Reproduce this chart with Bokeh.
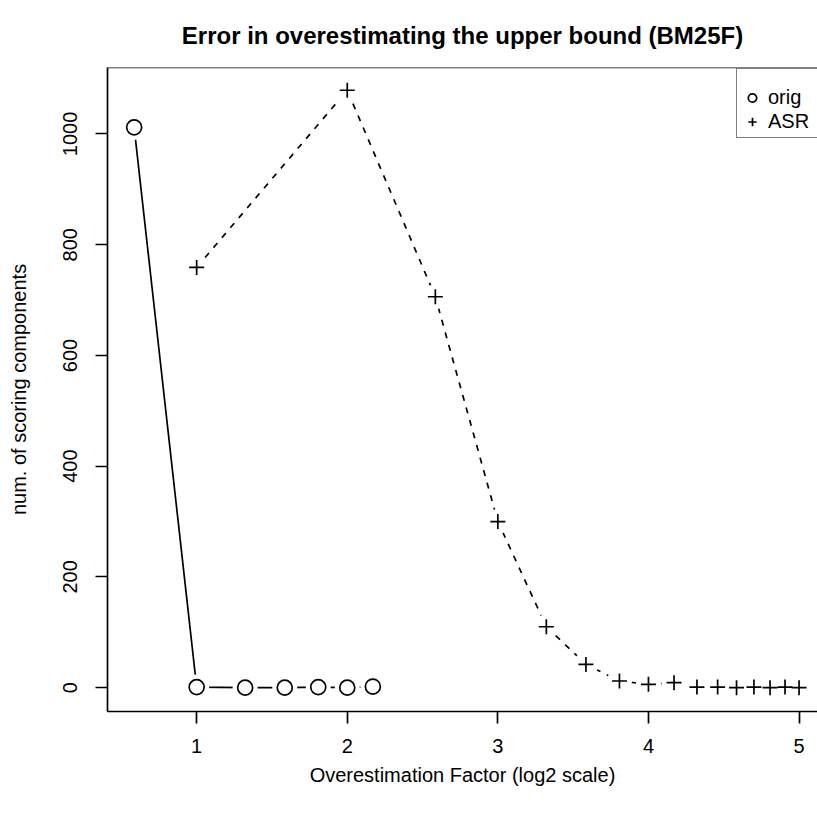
import numpy as np
from bokeh.plotting import figure
from bokeh.models import Range1d, FixedTicker, Span, Legend, LegendItem
from bokeh.embed import file_html
from bokeh.resources import INLINE

# Overestimation factors and counts of scoring components
orig_factor = [1.5, 2, 2.5, 3, 3.5, 4, 4.5]
orig_count = [1012, 1, 0, 0, 1, 0, 2]

asr_factor = [2, 4, 6, 8, 10, 12, 14, 16, 18, 20, 22, 24, 26, 28, 30, 32]
asr_count = [759, 1079, 706, 300, 110, 42, 12, 6, 9, 1, 1, 0, 1, 0, 1, 0]

x_ticks = [1, 2, 3, 4, 5]
y_ticks = [0, 200, 400, 600, 800, 1000]

orig_x = np.log2(orig_factor)
asr_x = np.log2(asr_factor)

FONT = "Liberation Sans"
LW = 1.7

p = figure(
    width=817, height=815,
    frame_width=710, frame_height=644,
    min_border_left=107, min_border_right=0,
    min_border_top=67, min_border_bottom=104,
    x_range=Range1d(0.408, 0.408 + 710 / 150.6),
    y_range=Range1d(-43.1, 1120.1),
    output_backend="svg", toolbar_location=None,
    title="Error in overestimating the upper bound (BM25F)",
)
p.background_fill_color = "white"
p.border_fill_color = "white"
p.outline_line_color = None
p.grid.visible = False

p.title.text_font = FONT
p.title.text_font_size = "24px"
p.title.text_font_style = "bold"
p.title.text_color = "black"
p.title.align = "center"
p.title.standoff = 37

for ax in (p.xaxis[0], p.yaxis[0]):
    ax.axis_line_color = "black"
    ax.axis_line_width = LW
    ax.major_tick_line_width = LW
    ax.major_tick_out = 12
    ax.major_tick_in = 0
    ax.minor_tick_line_color = None
    ax.major_label_text_font = FONT
    ax.major_label_text_font_size = "20px"
    ax.major_label_text_color = "black"
    ax.axis_label_text_font = FONT
    ax.axis_label_text_font_size = "20px"
    ax.axis_label_text_font_style = "normal"
    ax.axis_label_text_color = "black"

p.xaxis.ticker = FixedTicker(ticks=x_ticks)
p.yaxis.ticker = FixedTicker(ticks=y_ticks)
p.xaxis.axis_label = "Overestimation Factor (log2 scale)"
p.yaxis.axis_label = "num. of scoring components"
p.xaxis.major_label_standoff = 15
p.xaxis.axis_label_standoff = 8
p.yaxis.major_label_orientation = "vertical"
p.yaxis.major_label_standoff = 18
p.yaxis.axis_label_standoff = 31

# top edge of the plotting box
p.add_layout(Span(location=1120.1, dimension="width", line_color="black", line_width=LW))

# connecting lines
p.line(orig_x, orig_count, line_color="black", line_width=LW)
p.line(asr_x, asr_count, line_color="black", line_width=LW, line_dash="6 7")

# white halos leave a gap in the lines around each point
p.scatter(orig_x, orig_count, marker="circle", size=25, fill_color="white", line_color=None)
p.scatter(asr_x, asr_count, marker="circle", size=25, fill_color="white", line_color=None)

r_orig = p.scatter(orig_x, orig_count, marker="circle", size=15,
                   fill_color=None, line_color="black", line_width=LW)
r_asr = p.scatter(asr_x, asr_count, marker="cross", size=15,
                  line_color="black", line_width=LW)

legend = Legend(
    items=[LegendItem(label="orig", renderers=[r_orig]),
           LegendItem(label="ASR", renderers=[r_asr])],
    location=(629, 573),
    title=" ", title_text_font_size="6px", title_standoff=7,
    border_line_color="black", border_line_width=LW,
    background_fill_color="white", background_fill_alpha=1.0,
    label_text_font=FONT, label_text_font_size="20px", label_text_color="black",
    glyph_width=22, glyph_height=21, label_height=21, label_width=62,
    label_standoff=5, spacing=1, padding=4, margin=0,
)
p.add_layout(legend, "center")

open("out.html", "w").write(file_html(p, INLINE))
